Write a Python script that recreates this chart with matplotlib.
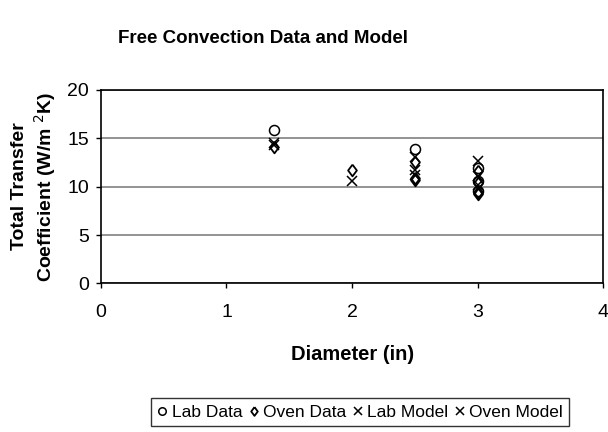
import matplotlib
matplotlib.use('Agg')
import matplotlib.pyplot as plt

plt.rcParams['font.family'] = ['Liberation Sans', 'DejaVu Sans']

lab_data_x = [1.375, 2.5, 3, 3, 3]
lab_data_y = [15.8, 13.9, 11.9, 10.6, 9.5]
oven_data_x = [1.375, 2, 2.5, 2.5, 2.5, 3, 3, 3, 3]
oven_data_y = [14.1, 11.7, 12.5, 10.9, 10.7, 11.6, 10.4, 9.4, 9.2]
lab_model_x = [1.375, 2.5, 3]
lab_model_y = [14.5, 13.1, 12.6]
oven_model_x = [1.375, 2, 2.5, 2.5, 3, 3]
oven_model_y = [14.3, 10.6, 11.7, 11.2, 11.1, 10.2]

diament = [(0, 1), (0.75, 0), (0, -1), (-0.75, 0), (0, 1)]  # romb wezszy niz wyzszy jak w excelu

fig = plt.figure(figsize=(6.08, 4.32), dpi=100)
ax = fig.add_axes([0.166, 0.344, 0.826, 0.448])

ax.plot(lab_data_x, lab_data_y, 'o', ms=7.2, mfc='none', mec='black', mew=1.1, label='Lab Data')
ax.plot(oven_data_x, oven_data_y, marker=diament, ls='none', ms=8.4, mfc='none', mec='black', mew=1.3, label='Oven Data')
ax.plot(lab_model_x, lab_model_y, 'x', ms=7, color='black', mew=1.1, label='Lab Model')
ax.plot(oven_model_x, oven_model_y, 'x', ms=7, color='black', mew=1.1, label='Oven Model')

ax.set_xlim(0, 4)
ax.set_ylim(0, 20)
ax.set_xticks([0, 1, 2, 3, 4])
ax.set_yticks([0, 5, 10, 15, 20])
ax.yaxis.grid(True, color='#808080', lw=1.2)
ax.set_axisbelow(True)
for s in ax.spines.values():
    s.set_color('black')
    s.set_linewidth(1.2)
ax.tick_params(direction='out', length=3.6, width=1, labelsize=14, pad=5)
ax.tick_params(axis='x', pad=11)

ax.set_xlabel('Diameter (in)', fontsize=14.5, fontweight='bold')
ax.xaxis.set_label_coords(0.502, -0.32)
ax.set_ylabel('Total Transfer\nCoefficient (W/m $^{2}$K)', fontsize=14, fontweight='bold', linespacing=1.2)
ax.yaxis.set_label_coords(-0.085, 0.5)
fig.text(0.4326, 0.912, 'Free Convection Data and Model', ha='center', va='center',
         fontsize=13.5, fontweight='bold')

leg = fig.legend(loc='center', bbox_to_anchor=(0.592, 0.046), ncol=4, fontsize=12.5,
                 frameon=True, fancybox=False, edgecolor='black', handlelength=0.6,
                 handletextpad=0.25, columnspacing=0.35, borderpad=0.35, borderaxespad=0,
                 markerscale=0.75)
leg.get_frame().set_linewidth(1)

fig.savefig('out.png', dpi=100)
